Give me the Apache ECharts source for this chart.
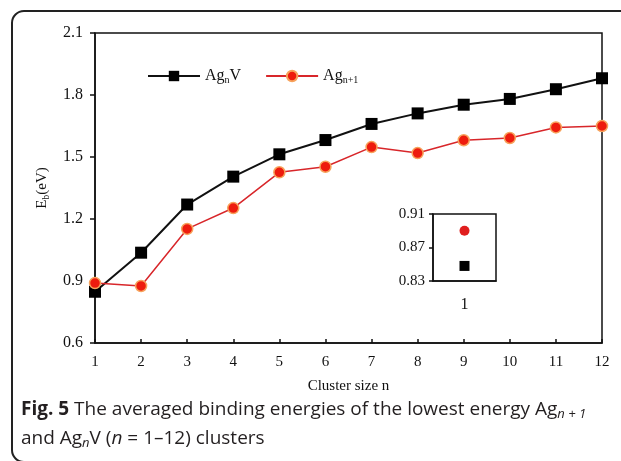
<!DOCTYPE html>
<html>
<head>
<meta charset="utf-8">
<script src="https://cdn.jsdelivr.net/npm/echarts@6/dist/echarts.min.js"></script>
<style>
  html, body { margin: 0; padding: 0; background: #fff; }
  #chart { width: 621px; height: 461px; }
</style>
</head>
<body>
<div id="chart"></div>
<script>
var sizes = ['1', '2', '3', '4', '5', '6', '7', '8', '9', '10', '11', '12'];
// Ag_nV averaged binding energies (eV)
var agnV = [0.848, 1.037, 1.27, 1.405, 1.513, 1.582, 1.66, 1.711, 1.753, 1.781, 1.828, 1.881];
// Ag_(n+1) averaged binding energies (eV)
var agn1 = [0.89, 0.876, 1.152, 1.253, 1.426, 1.453, 1.548, 1.519, 1.581, 1.592, 1.643, 1.65];
var insetCats = ['1'];

var serif = '"Liberation Serif", "Times New Roman", serif';
var sans = '"Open Sans", "Noto Sans", sans-serif';

var chart = echarts.init(document.getElementById('chart'));

var option = {
    animation: false,
    backgroundColor: '#fff',
    textStyle: { fontFamily: serif },
    legend: {
        left: 142,
        top: 63,
        itemWidth: 52,
        itemHeight: 13,
        itemGap: 24,
        data: ['AgnV', 'Agn1'],
        formatter: function(name) {
            return name === 'AgnV' ? 'Ag{s|n}V' : 'Ag{s|n+1}';
        },
        textStyle: {
            fontFamily: serif,
            fontSize: 16,
            color: '#111',
            rich: {
                s: { fontFamily: serif, fontSize: 10, color: '#111', padding: [8, 0, 0, 0] }
            }
        }
    },
    grid: [
        { left: 95, top: 33, width: 507, height: 310, show: true, borderColor: '#111', borderWidth: 1.5 },
        { left: 433, top: 214, width: 63, height: 67, show: true, borderColor: '#111', borderWidth: 1.5 }
    ],
    xAxis: [
        {
            gridIndex: 0,
            type: 'category',
            data: sizes,
            boundaryGap: false,
            name: 'Cluster size n',
            nameLocation: 'middle',
            nameGap: 36,
            nameTextStyle: { fontFamily: serif, fontSize: 15, color: '#111' },
            axisLine: { lineStyle: { color: '#111', width: 1.5 } },
            axisTick: { inside: true, length: 4, lineStyle: { color: '#111', width: 1.5 } },
            axisLabel: { fontFamily: serif, fontSize: 15, color: '#111', margin: 12 },
            splitLine: { show: false }
        },
        {
            gridIndex: 1,
            type: 'category',
            data: insetCats,
            boundaryGap: true,
            axisLine: { lineStyle: { color: '#111', width: 1.5 } },
            axisTick: { inside: true, length: 4, alignWithLabel: true, lineStyle: { color: '#111', width: 1.5 } },
            axisLabel: { fontFamily: serif, fontSize: 16, color: '#111', margin: 16 },
            splitLine: { show: false }
        }
    ],
    yAxis: [
        {
            gridIndex: 0,
            type: 'value',
            min: 0.6,
            max: 2.1,
            interval: 0.3,
            name: 'E{s|b}(eV)',
            nameLocation: 'middle',
            nameRotate: 90,
            nameGap: 44,
            nameTextStyle: {
                fontFamily: serif, fontSize: 15, color: '#111',
                rich: { s: { fontFamily: serif, fontSize: 10, color: '#111', padding: [8, 0, 0, 0] } }
            },
            axisLine: { show: true, lineStyle: { color: '#111', width: 1.5 } },
            axisTick: { show: true, length: 5, lineStyle: { color: '#111', width: 1.5 } },
            axisLabel: {
                fontFamily: serif, fontSize: 16, color: '#111', margin: 12,
                formatter: function(v) { return v.toFixed(1); }
            },
            splitLine: { show: false }
        },
        {
            gridIndex: 1,
            type: 'value',
            min: 0.83,
            max: 0.91,
            interval: 0.04,
            axisLine: { show: true, lineStyle: { color: '#111', width: 1.5 } },
            axisTick: { show: true, length: 4, lineStyle: { color: '#111', width: 1.5 } },
            axisLabel: {
                fontFamily: serif, fontSize: 15, color: '#111', margin: 8,
                formatter: function(v) { return v.toFixed(2); }
            },
            splitLine: { show: false }
        }
    ],
    series: [
        {
            name: 'AgnV',
            type: 'line',
            xAxisIndex: 0,
            yAxisIndex: 0,
            data: agnV,
            symbol: 'rect',
            symbolSize: 12,
            lineStyle: { color: '#111', width: 2 },
            itemStyle: { color: '#000' },
            z: 3
        },
        {
            name: 'Agn1',
            type: 'line',
            xAxisIndex: 0,
            yAxisIndex: 0,
            data: agn1,
            symbol: 'circle',
            symbolSize: 11,
            lineStyle: { color: '#d8262a', width: 1.5 },
            itemStyle: { color: '#ee1c0e', borderColor: '#f7a35c', borderWidth: 1.5 },
            z: 4
        },
        {
            name: 'insetAgn1',
            type: 'scatter',
            xAxisIndex: 1,
            yAxisIndex: 1,
            data: [agn1[0]],
            symbol: 'circle',
            symbolSize: 10,
            itemStyle: { color: '#e01e1e', opacity: 1 }
        },
        {
            name: 'insetAgnV',
            type: 'scatter',
            xAxisIndex: 1,
            yAxisIndex: 1,
            data: [agnV[0]],
            symbol: 'rect',
            symbolSize: 10,
            itemStyle: { color: '#000', opacity: 1 }
        }
    ],
    graphic: [
        {
            type: 'rect',
            shape: { x: 12, y: 11, width: 640, height: 451, r: 12 },
            style: { fill: 'none', stroke: '#222', lineWidth: 2 },
            silent: true
        },
        {
            type: 'text',
            left: 21,
            top: 395,
            style: {
                text: '{b|Fig. 5} The averaged binding energies of the lowest energy Ag{i|n + 1}\nand Ag{i|n}V ({it|n} = 1–12) clusters',
                font: '19px ' + sans,
                fill: '#231f20',
                lineHeight: 29,
                rich: {
                    b: { fontFamily: sans, fontSize: 19, fontWeight: 'bold', fill: '#231f20' },
                    i: { fontFamily: sans, fontSize: 13, fontStyle: 'italic', fill: '#231f20', padding: [10, 0, 0, 0] },
                    it: { fontFamily: sans, fontSize: 19, fontStyle: 'italic', fill: '#231f20' }
                }
            }
        }
    ]
};

chart.setOption(option);
</script>
</body>
</html>
